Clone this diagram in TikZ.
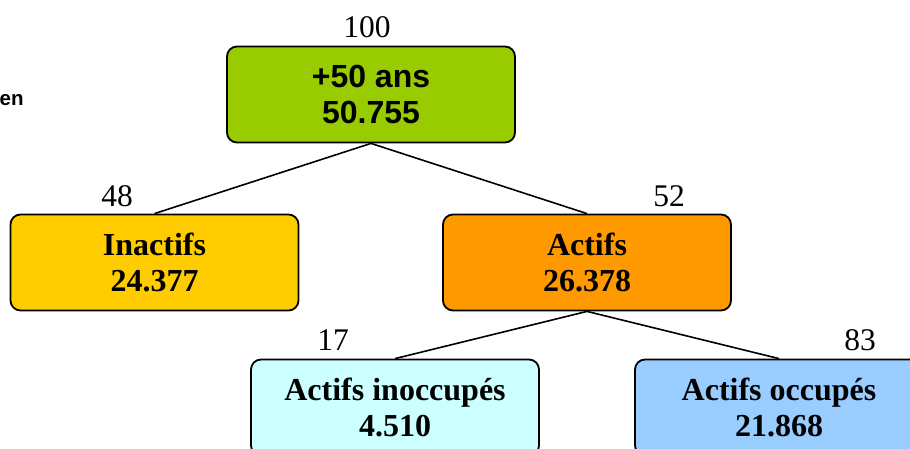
\documentclass[tikz,border=0pt]{standalone}
\usepackage{fontspec}
\setmainfont{Liberation Serif}
\setsansfont{Liberation Sans}
\begin{document}
\begin{tikzpicture}[x=1pt,y=-1pt,
  box/.style={draw=black, line width=1.8pt, rounded corners=10pt,
    minimum width=288pt, minimum height=96pt, align=center,
    font=\fontsize{32}{36}\selectfont\bfseries},
  share/.style={font=\fontsize{31.5}{35}\selectfont, inner sep=0pt},
  link/.style={line width=1.6pt}]
\useasboundingbox (0,0) rectangle (910,448);
\definecolor{cTop}{HTML}{99CC00}
\definecolor{cInact}{HTML}{FFCC00}
\definecolor{cAct}{HTML}{FF9900}
\definecolor{cInocc}{HTML}{CCFFFF}
\definecolor{cOcc}{HTML}{99CCFF}

\node[anchor=base west, inner sep=0pt, font=\fontsize{20.5}{24}\selectfont\sffamily\bfseries] (en) at (-0.5,105) {en};

\node[box, fill=cTop, font=\fontsize{32}{36}\selectfont\sffamily\bfseries] (top) at (371,94.5) {+50 ans\\50.755};
\node[box, fill=cInact] (inact) at (154.5,262.5) {Inactifs\\24.377};
\node[box, fill=cAct] (act) at (587,262.5) {Actifs\\26.378};
\node[box, fill=cInocc] (inocc) at (395,407.5) {Actifs inoccupés\\4.510};
\node[box, fill=cOcc] (occ) at (779,407.5) {Actifs occupés\\21.868};

\node[share] (p100) at (367,27) {100};
\node[share] (p48) at (117,196) {48};
\node[share] (p52) at (669,196) {52};
\node[share] (p17) at (333,340) {17};
\node[share] (p83) at (860,340) {83};

\draw[link] (top.south) -- (inact.north);
\draw[link] (top.south) -- (act.north);
\draw[link] (act.south) -- (inocc.north);
\draw[link] (act.south) -- (occ.north);
\end{tikzpicture}
\end{document}
